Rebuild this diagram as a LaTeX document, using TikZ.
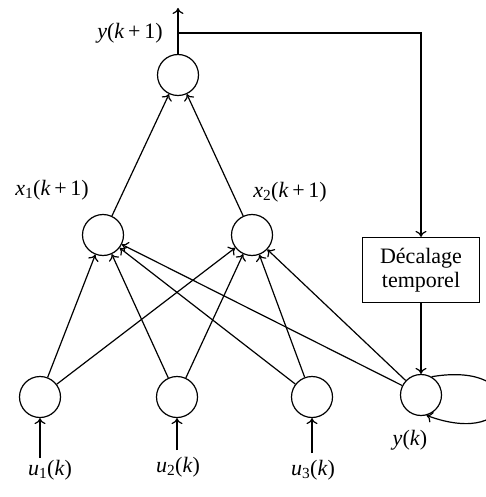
\documentclass[tikz,border=0pt]{standalone}
\usepackage{fontspec}
\setmainfont{Liberation Serif}
\usetikzlibrary{arrows.meta}
\begin{document}
\begin{tikzpicture}[x=1pt,y=-1pt,>={To[length=6pt,width=11pt]},
  neuron/.style={circle,draw,line width=1.2pt,minimum size=41pt,inner sep=0pt},
  lbl/.style={font=\fontsize{22}{24}\selectfont,inner sep=0pt},
  conn/.style={->,line width=1.2pt},
  delaybox/.style={draw,line width=1.2pt,minimum width=117pt,minimum height=65pt,align=center,font=\fontsize{22}{24}\selectfont}]
\useasboundingbox (0,0) rectangle (485,497);
\node[neuron] (top) at (178,75) {};
\node[neuron] (x1) at (103,235) {};
\node[neuron] (x2) at (252,235) {};
\node[neuron] (u1) at (40,397) {};
\node[neuron] (u2) at (177,397) {};
\node[neuron] (u3) at (312,397) {};
\node[neuron] (yk) at (421,395) {};
\node[delaybox] (box) at (421,270) {Décalage\\temporel};
% labels
\node[lbl] (lyk1) at (130,33) {\textit{y}(\textit{k}\,+\,1)};
\node[lbl] (lx1) at (52,190) {\textit{x}\textsubscript{1}(\textit{k}\,+\,1)};
\node[lbl] (lx2) at (290,192) {\textit{x}\textsubscript{2}(\textit{k}\,+\,1)};
\node[lbl] (lu1) at (50,470) {\textit{u}\textsubscript{1}(\textit{k})};
\node[lbl] (lu2) at (178,467) {\textit{u}\textsubscript{2}(\textit{k})};
\node[lbl] (lu3) at (313,470) {\textit{u}\textsubscript{3}(\textit{k})};
\node[lbl] (lyk) at (410,440) {\textit{y}(\textit{k})};
% input stubs
\coordinate (i1) at (40,458);
\coordinate (i2) at (177,450);
\coordinate (i3) at (312,453);
\draw[conn] (i1) -- (u1);
\draw[conn] (i2) -- (u2);
\draw[conn] (i3) -- (u3);
% hidden connections
\foreach \s in {u1,u2,u3,yk}{
  \draw[conn] (\s) -- (x1);
  \draw[conn] (\s) -- (x2);
}
\draw[conn] (x1) -- (top);
\draw[conn] (x2) -- (top);
% output and feedback
\coordinate (out) at (178,8);
\coordinate (j) at (178,33);
\coordinate (c) at (421,33);
\draw[conn] (top) -- (out);
\draw[conn] (j) -- (c) -- (box);
\draw[conn] (box) -- (yk);
\draw[conn] (yk.60) .. controls (530,360) and (520,450) .. (yk.-75);
\end{tikzpicture}
\end{document}
